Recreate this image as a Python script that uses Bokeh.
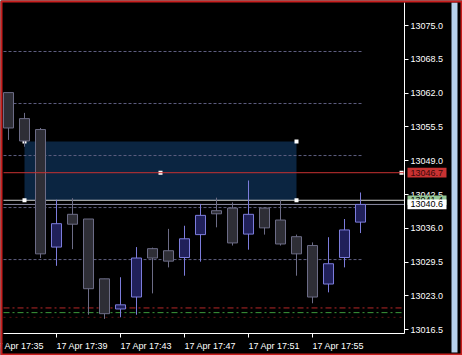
from bokeh.plotting import figure
from bokeh.models import (Range1d, FixedTicker, PrintfTickFormatter, LinearAxis,
                          ColumnDataSource)
from bokeh.core.properties import value
from bokeh.embed import file_html
from bokeh.resources import INLINE

# ---------------- data ----------------
times = ["17:36", "17:37", "17:38", "17:39", "17:40", "17:41", "17:42", "17:43",
         "17:44", "17:45", "17:46", "17:47", "17:48", "17:49", "17:50", "17:51",
         "17:52", "17:53", "17:54", "17:55", "17:56", "17:57", "17:58"]
opens = [13062.1, 13057.1, 13055.0, 13032.4, 13038.7, 13037.8, 13026.3, 13020.5,
         13022.8, 13032.1, 13031.7, 13030.4, 13034.8, 13039.4, 13039.9, 13034.9,
         13039.9, 13037.6, 13034.4, 13032.7, 13025.3, 13030.4, 13037.2]
highs = [13062.1, 13058.2, 13055.3, 13041.5, 13041.8, 13037.8, 13026.3, 13026.6,
         13032.4, 13032.3, 13035.9, 13036.5, 13040.7, 13041.9, 13041.0, 13045.2,
         13040.0, 13041.4, 13034.8, 13033.3, 13034.3, 13037.8, 13042.9]
lows = [13053.0, 13051.7, 13030.3, 13028.8, 13032.0, 13019.4, 13018.6, 13018.9,
        13019.4, 13023.5, 13028.5, 13026.9, 13029.6, 13036.2, 13032.7, 13031.9,
        13034.8, 13032.7, 13026.9, 13021.6, 13023.7, 13028.5, 13035.1]
closes = [13055.3, 13052.8, 13031.1, 13036.9, 13036.8, 13024.4, 13019.6, 13021.3,
          13030.3, 13030.3, 13029.7, 13034.0, 13038.5, 13038.8, 13033.2, 13038.7,
          13036.1, 13033.0, 13031.1, 13022.8, 13029.2, 13035.7, 13040.6]

price_ticks = [13016.5, 13023.0, 13029.5, 13036.0, 13042.5, 13049.0, 13055.5,
               13062.0, 13068.5, 13075.0]
time_tick_idx = [-1, 3, 7, 11, 15, 19]
time_tick_labels = ["17 Apr 17:35", "17 Apr 17:39", "17 Apr 17:43", "17 Apr 17:47",
                    "17 Apr 17:51", "17 Apr 17:55"]
grid_levels = [13030, 13040, 13050, 13060, 13070]

zone_left, zone_right = 1, 18          # bar indices (17:37 .. 17:54)
zone_bottom, zone_top = 13041.4, 13052.7
red_level = 13046.7
ask_level = 13041.4
bid_level = 13040.6
sl_level = 13020.7
tp_level = 13019.8
dot_level = 13018.9

tag_levels = [red_level, ask_level, bid_level]
tag_bg = ["#c83232", "#96c896", "#ffffff"]
tag_fg = ["#3a0808", "#000000", "#000000"]

# ---------------- layout helpers (pixel -> data, for chrome only) ----------------
W, H = 462, 355
BAR_PX = 16.0          # pixels per bar
BAR0_PX = 8.0          # pixel centre of bar 0
PX_PER_PT = 5.2017     # pixels per price point
P_REF, P_REF_PX = 13075.0, 25.0


def X(px):
    return (px - BAR0_PX) / BAR_PX


def Y(py):
    return P_REF - (py - P_REF_PX) / PX_PER_PT


plot_left, plot_right = X(3), X(404)
plot_top, plot_bottom = Y(2), Y(333)

FONT = "Liberation Sans"
FS = "9px"
bull_line, bull_fill = "#7c7cdc", "#20205a"
bear_line, bear_fill = "#6c6c86", "#2e2e36"
grid_color = "#5e5e80"

p = figure(width=W, height=H, x_range=Range1d(X(0), X(W)), y_range=Range1d(Y(H), Y(0)),
           toolbar_location=None, output_backend="svg",
           x_axis_location=None, y_axis_location=None,
           min_border_left=0, min_border_right=0, min_border_top=0, min_border_bottom=0,
           background_fill_color="black", border_fill_color="black",
           outline_line_color=None)
p.grid.visible = False

# ---- price axis (fixed at the right edge of the chart area) ----
yax = LinearAxis(fixed_location=plot_right, bounds=(plot_bottom, plot_top))
yax.ticker = FixedTicker(ticks=price_ticks)
yax.formatter = PrintfTickFormatter(format="%.1f")
yax.axis_line_color = "white"
yax.major_tick_line_color = "white"
yax.major_tick_out = 4
yax.major_tick_in = 0
yax.minor_tick_line_color = None
yax.major_label_standoff = 2
yax.major_label_text_color = "white"
yax.major_label_text_font = FONT
yax.major_label_text_font_size = FS
p.add_layout(yax, "right")

# ---- time axis: line + tick marks ----
xax = LinearAxis(fixed_location=plot_bottom, bounds=(plot_left, plot_right))
xax.ticker = FixedTicker(ticks=time_tick_idx)
xax.major_label_overrides = {t: "" for t in time_tick_idx}
xax.axis_line_color = "white"
xax.major_tick_line_color = "white"
xax.major_tick_out = 4
xax.major_tick_in = 0
xax.minor_tick_line_color = None
p.add_layout(xax, "below")

# ---- time labels: start at their tick (MT4 style), first one cut by the edge ----
p.text(x=time_tick_idx, y=[Y(345)] * len(time_tick_idx), text=time_tick_labels,
       text_color="white", text_align="left", text_baseline="alphabetic",
       text_font=value(FONT), text_font_size=value(FS))

# ---- zone rectangle ----
p.quad(left=[zone_left], right=[zone_right], bottom=[zone_bottom], top=[zone_top],
       fill_color="#0b2541", line_color=None)

# ---- dashed grid levels ----
last_x = len(times) - 1 + 0.125
n = len(grid_levels)
p.segment(x0=[plot_left] * n, x1=[last_x] * n, y0=grid_levels, y1=grid_levels,
          line_color=grid_color, line_dash="3 2", line_width=1)

# ---- bid / ask lines ----
p.segment(x0=[plot_left], x1=[plot_right], y0=[ask_level], y1=[ask_level],
          line_color="#cfcfcf", line_width=1)
p.segment(x0=[plot_left], x1=[plot_right], y0=[bid_level], y1=[bid_level],
          line_color="#8c8ca4", line_width=1)

# ---- order lines at the bottom ----
p.segment(x0=[plot_left], x1=[plot_right], y0=[sl_level], y1=[sl_level],
          line_color="#b42828", line_dash="6 3 2 3", line_width=1)
p.segment(x0=[plot_left], x1=[plot_right], y0=[tp_level], y1=[tp_level],
          line_color="#3c9a3c", line_dash="6 3 2 3", line_width=1)
p.segment(x0=[plot_left], x1=[plot_right], y0=[dot_level], y1=[dot_level],
          line_color="#5a1414", line_dash="2 4", line_width=1)

# ---- selection handles ----
hx = [zone_left, zone_right, zone_right, zone_left, (zone_left + zone_right) / 2, X(401)]
hy = [zone_top, zone_top, zone_bottom, zone_bottom, red_level, red_level]
p.scatter(hx, hy, marker="square", size=4, fill_color="white", line_color=None)

# ---- candles ----
idx = list(range(len(times)))
is_bull = [c > o for o, c in zip(opens, closes)]
src = ColumnDataSource(dict(
    x=idx, h=highs, l=lows,
    top=[max(o, c) for o, c in zip(opens, closes)],
    bottom=[min(o, c) for o, c in zip(opens, closes)],
    lc=[bull_line if b else bear_line for b in is_bull],
    fc=[bull_fill if b else bear_fill for b in is_bull],
))
p.segment(x0="x", x1="x", y0="h", y1="l", line_color="lc", line_width=1, source=src)
p.vbar(x="x", width=0.625, top="top", bottom="bottom", fill_color="fc",
       line_color="lc", line_width=1, source=src)

# ---- red horizontal line ----
p.segment(x0=[plot_left], x1=[plot_right], y0=[red_level], y1=[red_level],
          line_color="#c83232", line_width=1)

# ---- price tags on the axis (each box then its text, above the axis labels) ----
half_h = 0.93
for lvl, bg, fg in zip(tag_levels, tag_bg, tag_fg):
    p.quad(left=[X(407)], right=[X(446)], bottom=[lvl - half_h], top=[lvl + half_h],
           fill_color=bg, line_color=None, level="overlay")
    p.text(x=[X(410)], y=[lvl], text=[f"{lvl:.1f}"], text_color=fg, text_align="left",
           text_baseline="middle", text_font=value(FONT), text_font_size=value(FS),
           level="overlay")

# ---- window chrome: scroll strip and red frame ----
p.quad(left=[X(451)], right=[X(457)], bottom=[Y(352)], top=[Y(2)],
       fill_color="#b8d2ec", line_color=None, level="overlay")
p.quad(left=[X(1)], right=[X(461)], bottom=[Y(354)], top=[Y(1)],
       fill_color=None, line_color="#c81e1e", line_width=2, level="overlay")

open("out.html", "w").write(file_html(p, INLINE))
